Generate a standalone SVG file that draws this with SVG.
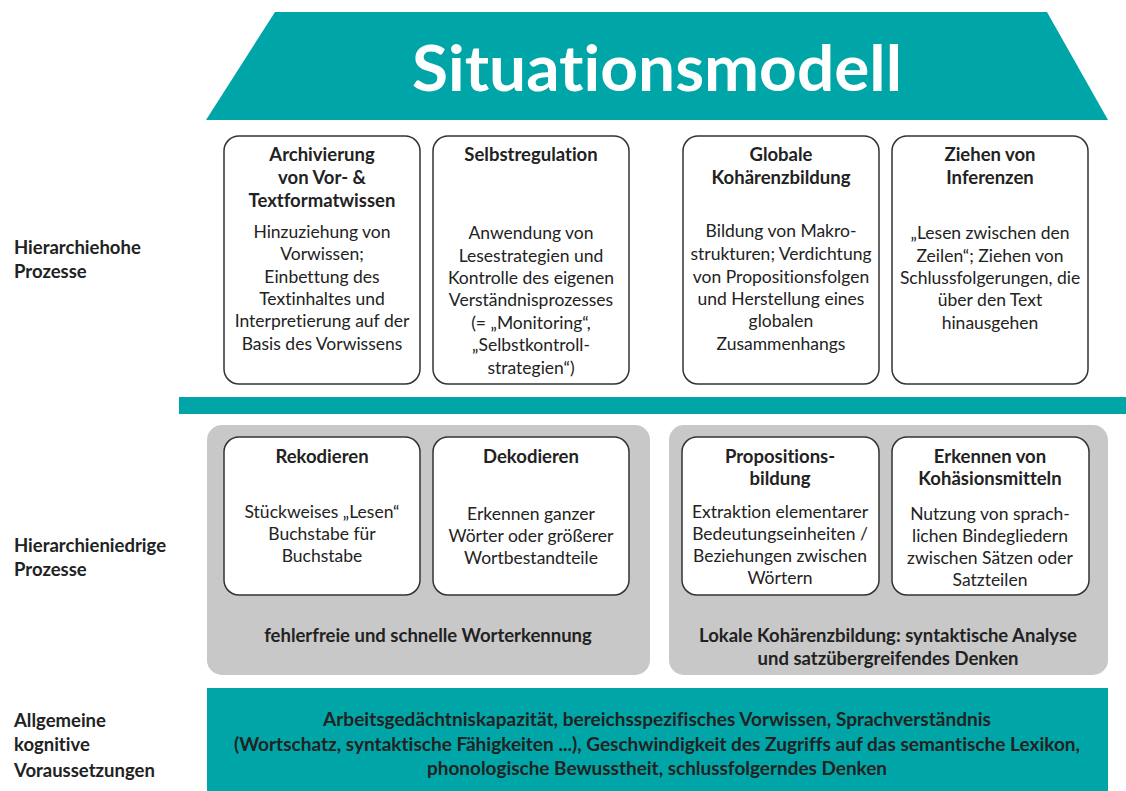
<svg xmlns="http://www.w3.org/2000/svg" width="1126" height="791" viewBox="0 0 1126 791">
<style>
text{font-family:Lato,"Open Sans","Liberation Sans",sans-serif;fill:#222;text-anchor:middle;font-variant-ligatures:none}
.t{font-weight:bold;font-size:18.5px}
.b{font-size:17.5px}
.c{font-weight:bold;font-size:18.5px}
.l{font-weight:bold;font-size:18.5px;text-anchor:start}
.box{fill:#fff;stroke:#333;stroke-width:1.5}
.panel{fill:#c8c8c8}
.teal{fill:#00a6a7}
</style>
<rect width="1126" height="791" fill="#fff"/>
<g id="header">
<polygon class="teal" points="275,12 1047,12 1108,120 206,120"/>
<text x="657" y="91" style="font-size:64px;font-weight:bold;fill:#fff" textLength="490" lengthAdjust="spacingAndGlyphs">Situationsmodell</text>
</g>
<g id="labels">
<text class="l" x="14" y="254">Hierarchiehohe</text>
<text class="l" x="14" y="278">Prozesse</text>
<text class="l" x="14" y="552">Hierarchieniedrige</text>
<text class="l" x="14" y="576">Prozesse</text>
<text class="l" x="14" y="727">Allgemeine</text>
<text class="l" x="14" y="751">kognitive</text>
<text class="l" x="14" y="777">Voraussetzungen</text>
</g>
<g id="divider"><rect class="teal" x="179" y="397" width="947" height="17"/></g>
<g id="box-archivierung">
<rect class="box" x="224" y="136" width="196" height="248" rx="15"/>
<text class="t" x="322" y="161">Archivierung</text>
<text class="t" x="322" y="184">von Vor- &amp;</text>
<text class="t" x="322" y="207">Textformatwissen</text>
<text class="b" x="322" y="238">Hinzuziehung von</text>
<text class="b" x="322" y="260">Vorwissen;</text>
<text class="b" x="322" y="283">Einbettung des</text>
<text class="b" x="322" y="305">Textinhaltes und</text>
<text class="b" x="322" y="327">Interpretierung auf der</text>
<text class="b" x="322" y="350">Basis des Vorwissens</text>
</g>
<g id="box-selbstregulation">
<rect class="box" x="433" y="136" width="196" height="248" rx="15"/>
<text class="t" x="531" y="161">Selbstregulation</text>
<text class="b" x="531" y="239">Anwendung von</text>
<text class="b" x="531" y="262">Lesestrategien und</text>
<text class="b" x="531" y="284">Kontrolle des eigenen</text>
<text class="b" x="531" y="306">Verständnisprozesses</text>
<text class="b" x="531" y="329">(= „Monitoring“,</text>
<text class="b" x="531" y="351">„Selbstkontroll-</text>
<text class="b" x="531" y="374">strategien“)</text>
</g>
<g id="box-global">
<rect class="box" x="683" y="136" width="196" height="248" rx="15"/>
<text class="t" x="781" y="161">Globale</text>
<text class="t" x="781" y="184">Kohärenzbildung</text>
<text class="b" x="781" y="237">Bildung von Makro-</text>
<text class="b" x="781" y="260">strukturen; Verdichtung</text>
<text class="b" x="781" y="283">von Propositionsfolgen</text>
<text class="b" x="781" y="305">und Herstellung eines</text>
<text class="b" x="781" y="327">globalen</text>
<text class="b" x="781" y="350">Zusammenhangs</text>
</g>
<g id="box-inferenzen">
<rect class="box" x="892" y="136" width="196" height="248" rx="15"/>
<text class="t" x="990" y="161">Ziehen von</text>
<text class="t" x="990" y="184">Inferenzen</text>
<text class="b" x="990" y="239">„Lesen zwischen den</text>
<text class="b" x="990" y="262">Zeilen“; Ziehen von</text>
<text class="b" x="990" y="284">Schlussfolgerungen, die</text>
<text class="b" x="990" y="306">über den Text</text>
<text class="b" x="990" y="329">hinausgehen</text>
</g>
<g id="panel-wort">
<rect class="panel" x="207" y="425" width="443" height="250" rx="15"/>
<text class="c" x="428" y="642">fehlerfreie und schnelle Worterkennung</text>
</g>
<g id="panel-lokal">
<rect class="panel" x="669" y="425" width="439" height="250" rx="15"/>
<text class="c" x="888" y="642">Lokale Kohärenzbildung: syntaktische Analyse</text>
<text class="c" x="888" y="665">und satzübergreifendes Denken</text>
</g>
<g id="box-rekodieren">
<rect class="box" x="224" y="437" width="196" height="158" rx="15"/>
<text class="t" x="322" y="463">Rekodieren</text>
<text class="b" x="322" y="518">Stückweises „Lesen“</text>
<text class="b" x="322" y="540">Buchstabe für</text>
<text class="b" x="322" y="562">Buchstabe</text>
</g>
<g id="box-dekodieren">
<rect class="box" x="433" y="437" width="196" height="158" rx="15"/>
<text class="t" x="531" y="463">Dekodieren</text>
<text class="b" x="531" y="520">Erkennen ganzer</text>
<text class="b" x="531" y="542">Wörter oder größerer</text>
<text class="b" x="531" y="564">Wortbestandteile</text>
</g>
<g id="box-propositionsbildung">
<rect class="box" x="682" y="437" width="197" height="158" rx="15"/>
<text class="t" x="780" y="463">Propositions-</text>
<text class="t" x="780" y="485">bildung</text>
<text class="b" x="780" y="518">Extraktion elementarer</text>
<text class="b" x="780" y="540">Bedeutungseinheiten /</text>
<text class="b" x="780" y="562">Beziehungen zwischen</text>
<text class="b" x="780" y="584">Wörtern</text>
</g>
<g id="box-kohaesion">
<rect class="box" x="892" y="437" width="197" height="158" rx="15"/>
<text class="t" x="990" y="463">Erkennen von</text>
<text class="t" x="990" y="485">Kohäsionsmitteln</text>
<text class="b" x="990" y="520">Nutzung von sprach-</text>
<text class="b" x="990" y="542">lichen Bindegliedern</text>
<text class="b" x="990" y="564">zwischen Sätzen oder</text>
<text class="b" x="990" y="586">Satzteilen</text>
</g>
<g id="basis">
<rect class="teal" x="207" y="688" width="901" height="103"/>
<text class="c" x="657" y="726" textLength="668" lengthAdjust="spacingAndGlyphs">Arbeitsgedächtniskapazität, bereichsspezifisches Vorwissen, Sprachverständnis</text>
<text class="c" x="657" y="751" textLength="846" lengthAdjust="spacingAndGlyphs">(Wortschatz, syntaktische Fähigkeiten ...), Geschwindigkeit des Zugriffs auf das semantische Lexikon,</text>
<text class="c" x="657" y="775" textLength="460" lengthAdjust="spacingAndGlyphs">phonologische Bewusstheit, schlussfolgerndes Denken</text>
</g>
<g id="connectors"/>
</svg>
